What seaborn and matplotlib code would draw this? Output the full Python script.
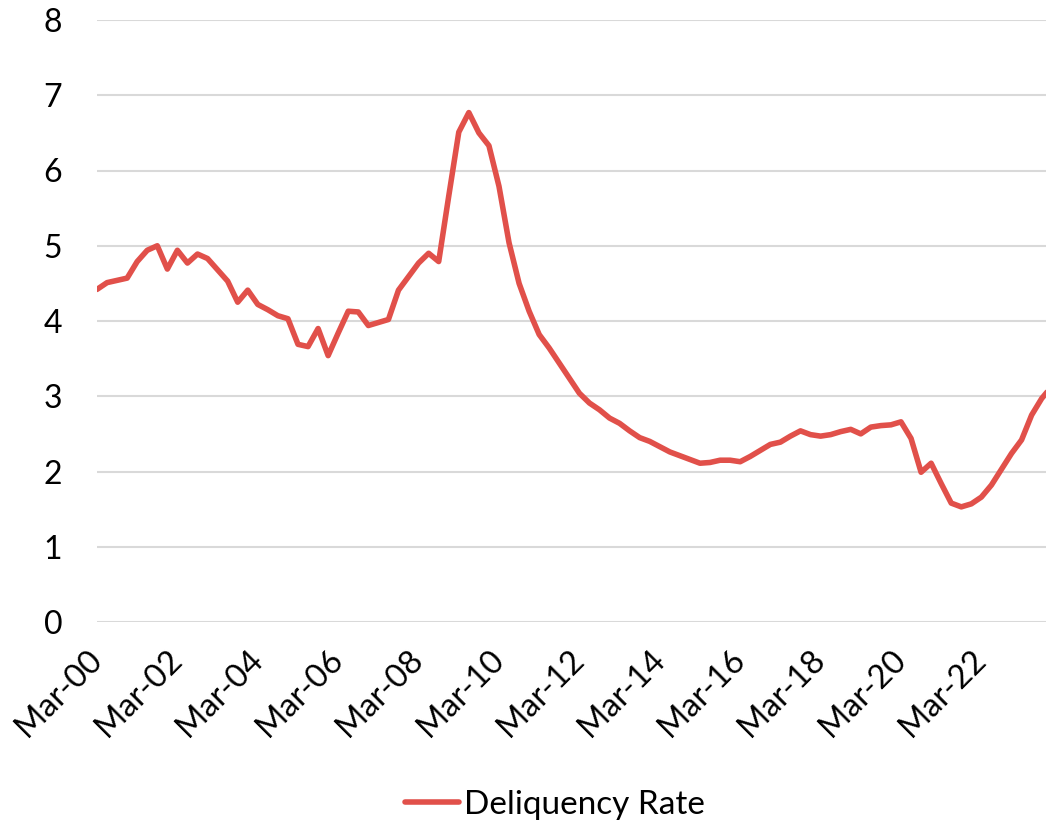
import matplotlib
matplotlib.use("Agg")
import matplotlib.pyplot as plt
import seaborn as sns
import pandas as pd

rates = [4.42, 4.51, 4.54, 4.57, 4.79, 4.94, 5.00, 4.69, 4.94, 4.77,
         4.89, 4.83, 4.68, 4.53, 4.25, 4.41, 4.22, 4.15, 4.07, 4.03,
         3.69, 3.66, 3.90, 3.54, 3.84, 4.13, 4.12, 3.94, 3.98, 4.02,
         4.41, 4.59, 4.77, 4.90, 4.79, 5.66, 6.51, 6.77, 6.50, 6.33,
         5.79, 5.04, 4.50, 4.13, 3.82, 3.64, 3.44, 3.24, 3.04, 2.91,
         2.82, 2.71, 2.64, 2.54, 2.45, 2.40, 2.33, 2.26, 2.21, 2.16,
         2.11, 2.12, 2.15, 2.15, 2.13, 2.20, 2.28, 2.36, 2.39, 2.47,
         2.54, 2.49, 2.47, 2.49, 2.53, 2.56, 2.50, 2.59, 2.61, 2.62,
         2.66, 2.44, 1.99, 2.11, 1.84, 1.58, 1.53, 1.57, 1.66, 1.82,
         2.03, 2.24, 2.42, 2.75, 2.97, 3.13]
quarters = ["Mar", "Jun", "Sep", "Dec"]
periods = [f"{quarters[i % 4]}-{(i // 4):02d}" for i in range(len(rates))]
tick_labels = ["Mar-00", "Mar-02", "Mar-04", "Mar-06", "Mar-08", "Mar-10",
               "Mar-12", "Mar-14", "Mar-16", "Mar-18", "Mar-20", "Mar-22"]
series_name = "Deliquency Rate"

df = pd.DataFrame({"idx": range(len(rates)), "period": periods, "rate": rates,
                   "series": series_name})

sns.set_theme(style="white")
plt.rcParams["font.family"] = ["Lato", "DejaVu Sans"]
plt.rcParams["text.color"] = "black"
plt.rcParams["xtick.color"] = "black"
plt.rcParams["ytick.color"] = "black"

fig = plt.figure(figsize=(10.46, 8.25), dpi=100)
ax = fig.add_axes([97 / 1046, 1 - 622 / 825, 1 - 97 / 1046, (622 - 20) / 825])

color = "#E1504A"
lw = 4.0
sns.lineplot(data=df, x="idx", y="rate", hue="series", palette=[color],
             linewidth=lw, ax=ax, legend=False, solid_capstyle="round")

ax.set_ylim(0, 8)
ax.set_yticks(range(0, 9))
ax.set_xlim(0, 94.43)
tick_pos = [periods.index(t) for t in tick_labels]
ax.set_xticks(tick_pos)
ax.set_xticklabels(tick_labels, rotation=45, ha="right", va="center",
                   rotation_mode="anchor", fontsize=23.5, color="black")
ax.tick_params(axis="x", length=0, pad=24, labelcolor="black")
ax.tick_params(axis="y", length=0, pad=25, labelsize=23, labelcolor="black")
ax.set_xlabel("")
ax.set_ylabel("")
ax.yaxis.grid(True, color="#D9D9D9", linewidth=1.5)
ax.xaxis.grid(False)
for s in ax.spines.values():
    s.set_visible(False)
ax.set_axisbelow(True)

handle = plt.Line2D([0], [0], color=color, linewidth=lw, solid_capstyle="round")
leg = fig.legend([handle], [series_name], loc="center",
                 bbox_to_anchor=(555 / 1046, 1 - 805 / 825), frameon=False,
                 fontsize=24, handlelength=1.6, handletextpad=0.15)
for t in leg.get_texts():
    t.set_color("black")

fig.savefig("out.png", dpi=100)
